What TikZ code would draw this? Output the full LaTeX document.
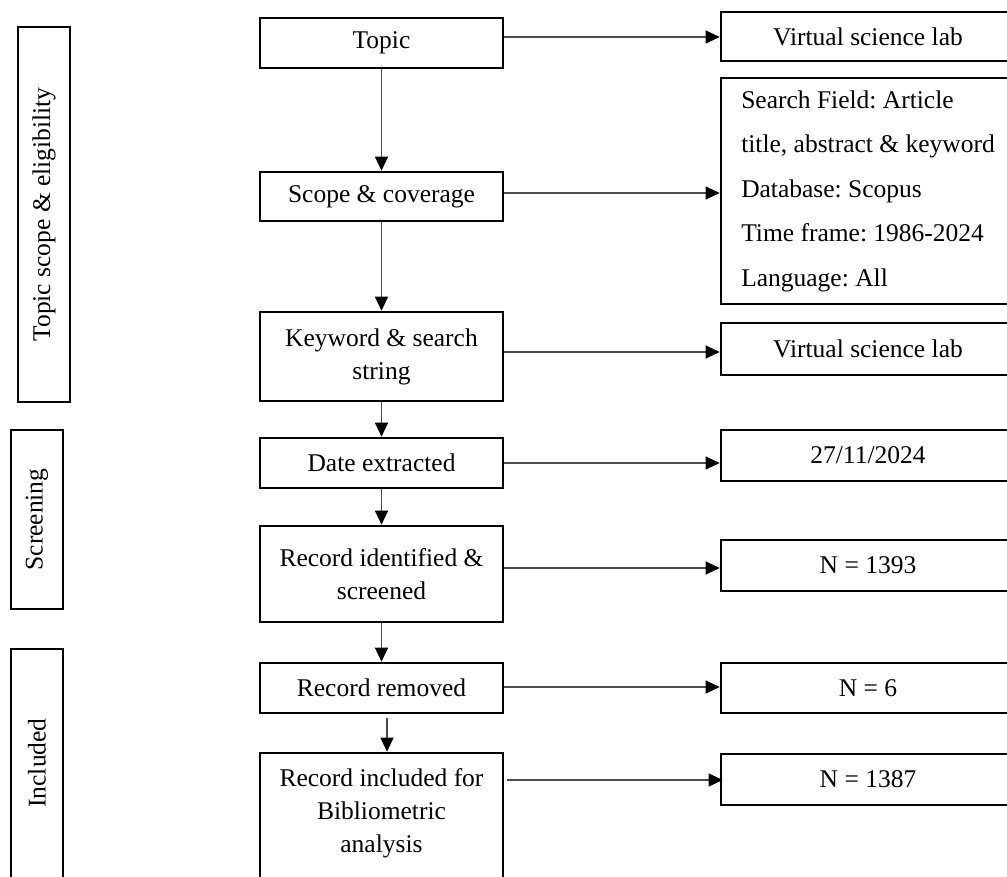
\documentclass[tikz,border=0pt]{standalone}
\usepackage{fontspec}
\setmainfont{Liberation Serif}
\usetikzlibrary{arrows.meta}
\newcommand{\txtfont}{\fontsize{25.5}{33}\selectfont}
\frenchspacing
\begin{document}
\begin{tikzpicture}[x=1pt,y=-1pt,
  box/.style={draw, line width=2.6pt, minimum width=243pt, align=center, inner sep=0pt, font=\txtfont},
  rbox/.style={draw, line width=2.6pt, minimum width=294pt, inner sep=0pt, align=center, font=\txtfont},
  sbox/.style={draw, line width=2.6pt, rotate=90, minimum height=52pt, inner sep=0pt, font=\txtfont},
  plain/.style={inner sep=0pt, align=center, font=\txtfont},
  arr/.style={draw=black!70, line width=1.1pt, -{Triangle[length=14pt,width=13pt,color=black]}},
]
\useasboundingbox (0,0) rectangle (1007,877);
\clip (0,0) rectangle (1007,877);

% middle column
\node[box, minimum height=50pt] (topic) at (381.5,43) {Topic};
\node[box, minimum height=49pt] (scope) at (381.5,196.5) {Scope \& coverage};
\node[box, minimum height=89pt] (kw) at (381.5,356.5) {Keyword \& search\\string};
\node[box, minimum height=50pt] (date) at (381.5,463) {Date extracted};
\node[box, minimum height=96pt] (ident) at (381.5,574) {Record identified \&\\screened};
\node[box, minimum height=50pt] (removed) at (381.5,688) {Record removed};
\node[box, minimum height=150pt] (incl) at (381.5,828) {};
\node[plain] (incltext) at (381.5,813) {Record included for\\Bibliometric\\analysis};

% right column
\node[rbox, minimum height=49pt] (r1) at (868,36.5) {Virtual science lab};
\node[rbox, minimum height=226pt, align=left, font=\fontsize{25.5}{44.5}\selectfont] (r2) at (868,191) {Search Field: Article\\title, abstract \& keyword\\Database: Scopus\\Time frame: 1986-2024\\Language: All};
\node[rbox, minimum height=52pt] (r3) at (868,349) {Virtual science lab};
\node[rbox, minimum height=51pt] (r4) at (868,455.5) {27/11/2024};
\node[rbox, minimum height=51pt] (r5) at (868,565.5) {N = 1393};
\node[rbox, minimum height=50pt] (r6) at (868,688) {N = 6};
\node[rbox, minimum height=51pt] (r7) at (868,779.5) {N = 1387};

% left column
\node[sbox, minimum width=375pt] (L1) at (44,214.5) {Topic scope \& eligibility};
\node[sbox, minimum width=179pt] (L2) at (37,519.5) {Screening};
\node[sbox, minimum width=240pt] (L3) at (37,769) {};
\node[plain, rotate=90] (L3t) at (37,763) {Included};

% vertical arrows
\draw[arr] (topic.south) -- (scope.north);
\draw[arr] (scope.south) -- (kw.north);
\draw[arr] (kw.south) -- (date.north);
\draw[arr] (date.south) -- (ident.north);
\draw[arr] (ident.south) -- (removed.north);
\draw[arr] ([xshift=5.5pt,yshift=-4pt]removed.south) -- ([xshift=5.5pt]incl.north);

% horizontal arrows
\draw[arr] (topic.east |- 0,37) -- (r1.west |- 0,37);
\draw[arr] (scope.east |- 0,193) -- (r2.west |- 0,193);
\draw[arr] (kw.east |- 0,352) -- (r3.west |- 0,352);
\draw[arr] (date.east |- 0,463) -- (r4.west |- 0,463);
\draw[arr] (ident.east |- 0,568) -- (r5.west |- 0,568);
\draw[arr] (removed.east |- 0,687) -- (r6.west |- 0,687);
\draw[arr, shorten <=3pt, shorten >=-3pt] (incl.east |- 0,780) -- (r7.west |- 0,780);
\end{tikzpicture}
\end{document}
